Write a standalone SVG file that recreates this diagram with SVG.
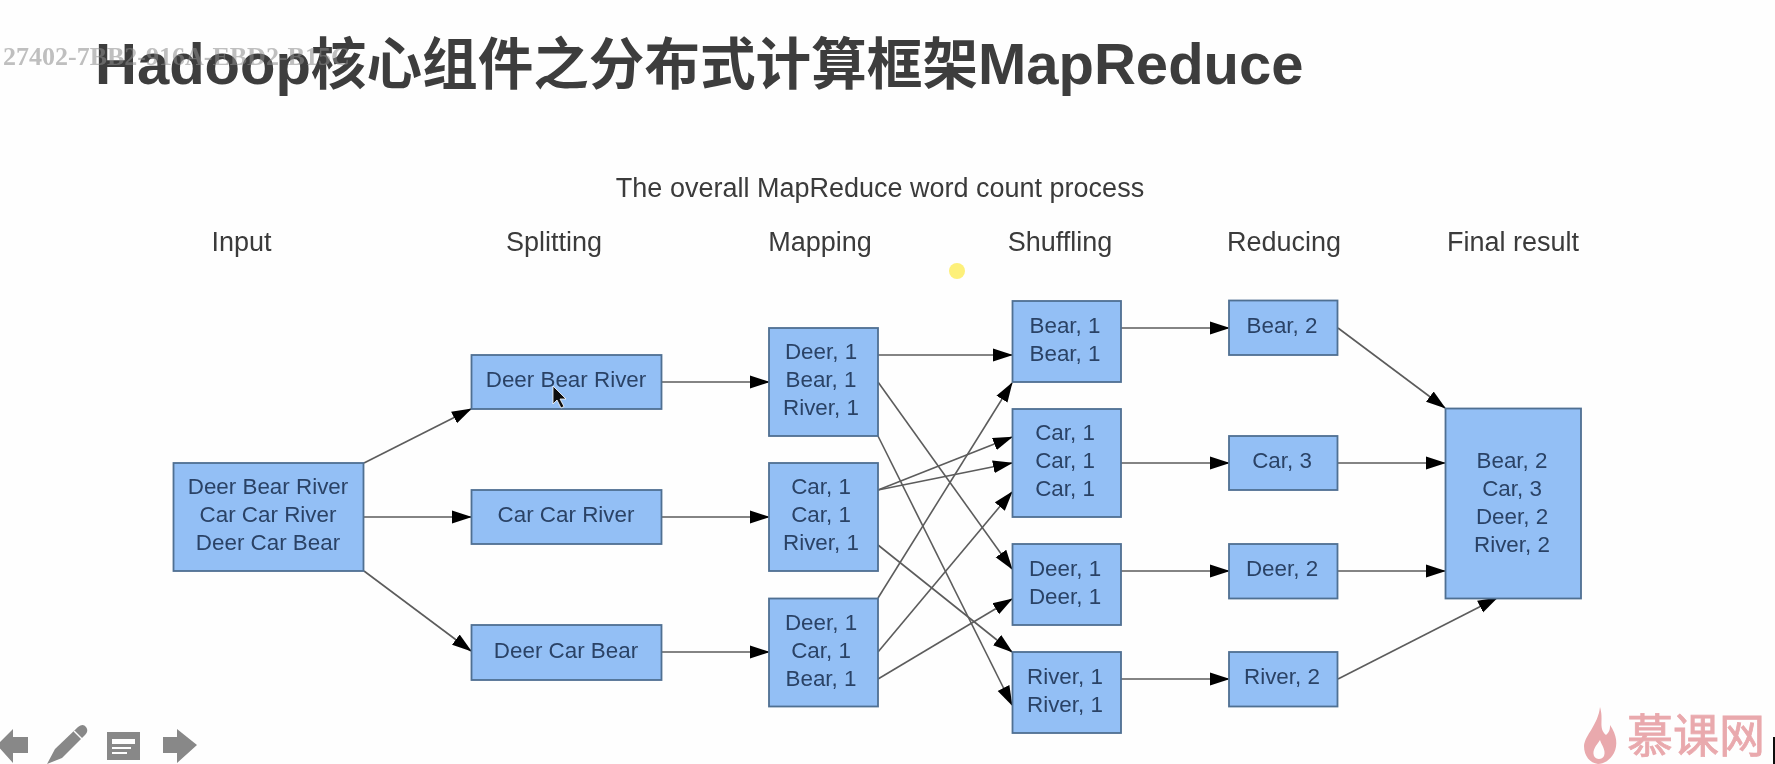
<svg xmlns="http://www.w3.org/2000/svg" width="1775" height="764" viewBox="0 0 1775 764">
<style>
text{font-family:"Liberation Sans","Noto Sans CJK SC",sans-serif}
.box{fill:#93bff5;stroke:#4f6f92;stroke-width:1.8}
.t{font-size:22.4px;fill:#2b4366;text-anchor:middle}
.h{font-size:27px;fill:#3a3a3a;text-anchor:middle}
.c{fill:none;stroke:#5c5c5c;stroke-width:1.6;marker-end:url(#a)}
.i{fill:#888}
</style>
<defs>
<marker id="a" markerUnits="userSpaceOnUse" markerWidth="20" markerHeight="14" refX="19" refY="7" orient="auto"><path d="M0,0.500L20,7L0,13.500z" fill="#000"/></marker>
<filter id="b" x="0" y="0" width="100%" height="100%" filterUnits="userSpaceOnUse"><feGaussianBlur stdDeviation="0.5"/></filter>
</defs>
<rect width="1775" height="764" fill="#fefefe"/>
<g filter="url(#b)">
<text id="title" x="95" y="84" font-size="58" font-weight="700" fill="#3c3c3c">Hadoop<tspan font-size="55.6">核心组件之分布式计算框架</tspan>MapReduce</text>
<text id="watermark" x="3" y="65" style="font-family:'Liberation Serif',serif" font-size="26" font-weight="700" fill="#8a8a8a" fill-opacity="0.55">27402-7BB2-916A-EBD2-B15C</text>
<text class="h" x="880" y="197">The overall MapReduce word count process</text>
<g id="headers">
<text class="h" x="241.5" y="251">Input</text>
<text class="h" x="554" y="251">Splitting</text>
<text class="h" x="820" y="251">Mapping</text>
<text class="h" x="1060" y="251">Shuffling</text>
<text class="h" x="1284" y="251">Reducing</text>
<text class="h" x="1513" y="251">Final result</text>
</g>
<g id="connectors">
<path class="c" d="M364,463L471,409"/>
<path class="c" d="M364,517H471"/>
<path class="c" d="M364,571L471,651"/>
<path class="c" d="M661,382H769"/>
<path class="c" d="M661,517H769"/>
<path class="c" d="M661,652H769"/>
<path class="c" d="M878,355H1012"/>
<path class="c" d="M878,382L1012,569"/>
<path class="c" d="M878,436L1012,705"/>
<path class="c" d="M878,490L1012,437"/>
<path class="c" d="M878,490L1012,463"/>
<path class="c" d="M878,545L1012,652"/>
<path class="c" d="M878,598L1012,383"/>
<path class="c" d="M878,652L1012,492"/>
<path class="c" d="M878,679L1012,599"/>
<path class="c" d="M1121,328H1229"/>
<path class="c" d="M1121,463H1229"/>
<path class="c" d="M1121,571H1229"/>
<path class="c" d="M1121,679H1229"/>
<path class="c" d="M1338,328L1445,408"/>
<path class="c" d="M1338,463H1445"/>
<path class="c" d="M1338,571H1445"/>
<path class="c" d="M1338,679L1497,598"/>
</g>
<g id="input"><rect class="box" x="173.500" y="463" width="190" height="108"/><text class="t" x="268" y="494">Deer Bear River</text><text class="t" x="268" y="522">Car Car River</text><text class="t" x="268" y="550">Deer Car Bear</text></g>
<g id="split1"><rect class="box" x="471.500" y="355" width="190" height="54"/><text class="t" x="566" y="387">Deer Bear River</text></g>
<g id="split2"><rect class="box" x="471.500" y="490" width="190" height="54"/><text class="t" x="566" y="522">Car Car River</text></g>
<g id="split3"><rect class="box" x="471.500" y="625" width="190" height="55"/><text class="t" x="566" y="658">Deer Car Bear</text></g>
<g id="map1"><rect class="box" x="769" y="328" width="109" height="108"/><text class="t" x="821" y="359">Deer, 1</text><text class="t" x="821" y="387">Bear, 1</text><text class="t" x="821" y="415">River, 1</text></g>
<g id="map2"><rect class="box" x="769" y="463" width="109" height="108"/><text class="t" x="821" y="494">Car, 1</text><text class="t" x="821" y="522">Car, 1</text><text class="t" x="821" y="550">River, 1</text></g>
<g id="map3"><rect class="box" x="769" y="598.500" width="109" height="108"/><text class="t" x="821" y="630">Deer, 1</text><text class="t" x="821" y="658">Car, 1</text><text class="t" x="821" y="686">Bear, 1</text></g>
<g id="shuffle1"><rect class="box" x="1012.500" y="301" width="108.500" height="81"/><text class="t" x="1065" y="333">Bear, 1</text><text class="t" x="1065" y="361">Bear, 1</text></g>
<g id="shuffle2"><rect class="box" x="1012.500" y="409" width="108.500" height="108"/><text class="t" x="1065" y="440">Car, 1</text><text class="t" x="1065" y="468">Car, 1</text><text class="t" x="1065" y="496">Car, 1</text></g>
<g id="shuffle3"><rect class="box" x="1012.500" y="544" width="108.500" height="81"/><text class="t" x="1065" y="576">Deer, 1</text><text class="t" x="1065" y="604">Deer, 1</text></g>
<g id="shuffle4"><rect class="box" x="1012.500" y="652" width="108.500" height="81"/><text class="t" x="1065" y="684">River, 1</text><text class="t" x="1065" y="712">River, 1</text></g>
<g id="reduce1"><rect class="box" x="1229" y="300.500" width="108.500" height="54.500"/><text class="t" x="1282" y="333">Bear, 2</text></g>
<g id="reduce2"><rect class="box" x="1229" y="436" width="108.500" height="54"/><text class="t" x="1282" y="468">Car, 3</text></g>
<g id="reduce3"><rect class="box" x="1229" y="544" width="108.500" height="54.500"/><text class="t" x="1282" y="576">Deer, 2</text></g>
<g id="reduce4"><rect class="box" x="1229" y="652" width="108.500" height="54.500"/><text class="t" x="1282" y="684">River, 2</text></g>
<g id="final"><rect class="box" x="1445.500" y="408.500" width="135.500" height="190"/><text class="t" x="1512" y="468">Bear, 2</text><text class="t" x="1512" y="496">Car, 3</text><text class="t" x="1512" y="524">Deer, 2</text><text class="t" x="1512" y="552">River, 2</text></g>
<ellipse cx="957" cy="271" rx="8" ry="8" fill="#fdf07a"/>
<path d="M553,386V404L557,400L561,408L564,406.500L560,399H566z" fill="#111" stroke="#fff" stroke-width="0.8"/>
<g id="toolbar">
<path class="i" d="M-3,745L13,729V737H28V753H13V763z"/>
<path class="i" d="M47,764L55,749L78,727Q83,723 86,727Q89,731 85,735L62,758z"/>
<path d="M74,731L82,739" stroke="#fefefe" stroke-width="1.5" fill="none"/>
<path class="i" fill-rule="evenodd" d="M107,732H140V760H107zM112,739V744H135V739zM112,747V749H131V747zM112,752V754H127V752z"/>
<path class="i" d="M163,737H177V729L197,745L177,763V753H163z"/>
</g>
<g id="logo">
<path fill-rule="evenodd" d="M1600,707C1604,720 1598,728 1606,735C1610,732 1610,728 1610,725C1617,735 1618,745 1614,753C1610,760 1604,764 1598,764C1590,763 1584,756 1584,746C1585,735 1598,725 1600,707zM1600,740C1596,746 1592,750 1594,756C1596,760 1602,760 1604,756C1606,750 1602,746 1600,740z" fill="#e9a9ad"/>
<text x="1627" y="752" font-size="46" fill="#e9a9ad" stroke="#e9a9ad" stroke-width="0.8">慕课网</text>
<rect x="1773" y="737" width="2" height="27" fill="#111"/>
</g>
</g>
</svg>
